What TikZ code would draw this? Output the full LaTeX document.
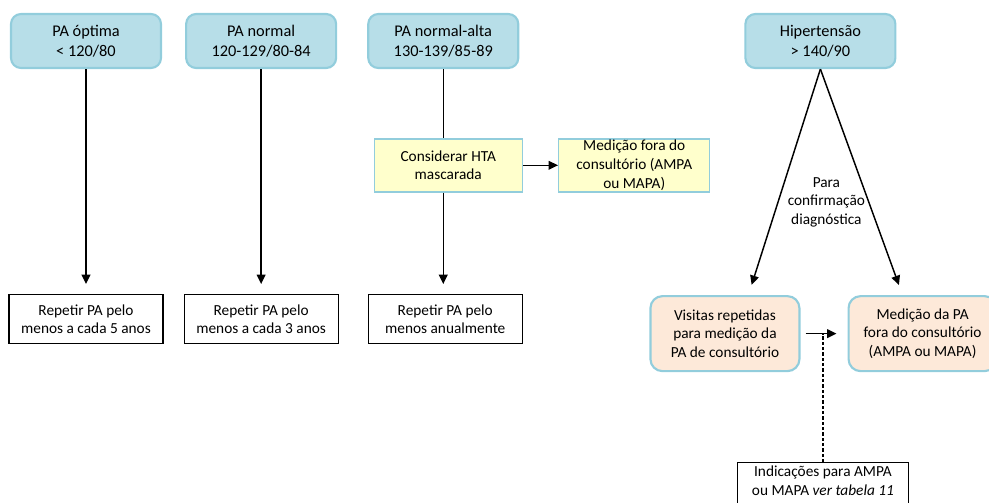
\documentclass[tikz,border=0pt]{standalone}
\usepackage{fontspec}
\setmainfont{Carlito}
\usepackage{xcolor}
\usepackage{tikz}
\usetikzlibrary{arrows.meta, positioning}

\definecolor{catblue}{HTML}{B7DEE8}
\definecolor{edgeblue}{HTML}{92CDDC}
\definecolor{notepale}{HTML}{FFFFCC}
\definecolor{peach}{HTML}{FDE9D9}

\begin{document}
\begin{tikzpicture}[auto, font=\fontsize{11.5}{14}\selectfont]
    % Define styles
    \tikzset{
        category/.style={rectangle, rounded corners=7.5pt, draw=edgeblue, line width=1.6pt, fill=catblue, align=center, minimum width=112.5pt, minimum height=40.5pt, font=\fontsize{12.25}{15}\selectfont},
        advice/.style={rectangle, draw=black, line width=0.9pt, fill=white, align=center, minimum width=115.5pt, minimum height=36.75pt},
        note/.style={rectangle, draw=edgeblue, line width=1.1pt, fill=notepale, align=center, minimum width=111pt, minimum height=39.75pt, inner sep=1pt},
        confirm/.style={rectangle, rounded corners=9pt, draw=edgeblue, line width=1.6pt, fill=peach, align=center, minimum width=111.75pt, minimum height=56.25pt},
        flow/.style={line width=1.1pt, -{Triangle[length=7pt, width=6.5pt]}}
    }
    \useasboundingbox (0,0) rectangle (741.75pt,-377.25pt);

    % Nodes
    \node[category] (optima) at (64.5pt,-30.75pt) {PA óptima\\< 120/80};
    \node[category, right=17.25pt of optima] (normal) {PA normal\\120-129/80-84};
    \node[category, right=22.5pt of normal] (normalalta) {PA normal-alta\\130-139/85-89};
    \node[category, right=168.75pt of normalalta] (hiper) {Hipertensão\\> 140/90};

    \node[advice, below=168.75pt of optima] (rep5) {Repetir PA pelo\\menos a cada 5 anos};
    \node[advice, below=168.75pt of normal] (rep3) {Repetir PA pelo\\menos a cada 3 anos};

    \node[note, below=51.75pt of normalalta, xshift=3.75pt] (mascarada) {Considerar HTA\\mascarada};
    \node[note, right=26.25pt of mascarada, minimum width=113.25pt] (fora) {Medição fora do\\consultório (AMPA\\ou MAPA)};
    \node[advice, below=168.75pt of normalalta, xshift=1.5pt] (repano) {Repetir PA pelo\\menos anualmente};

    \node[below=81pt of hiper, xshift=4.5pt, inner sep=0pt, align=center] (motivo) {Para\\confirmação\\diagnóstica};

    \node[confirm, below=169.5pt of hiper, xshift=-71.6pt] (visitas) {Visitas repetidas\\para medição da\\PA de consultório};
    \node[confirm, right=35.25pt of visitas, minimum width=111pt] (medpa) {Medição da PA\\fora do consultório\\(AMPA ou MAPA)};
    \node[advice, below=67.5pt of visitas, xshift=73.5pt, minimum width=128.25pt, minimum height=0pt, inner ysep=2.5pt, text depth=14pt] (indic) {Indicações para AMPA\\ou MAPA \textit{ver tabela 11}};

    % Arrows
    \draw[flow, shorten >=7.5pt] (optima) -- (rep5);
    \draw[flow, shorten >=7.5pt] (normal) -- (rep3);
    \draw[line width=1.1pt] (normalalta) -- (normalalta |- mascarada.north);
    \draw[flow, shorten >=7.5pt] (mascarada.south -| normalalta) -- (repano.north -| normalalta);
    \draw[flow] (mascarada) -- (fora);

    \draw[flow, shorten >=8pt] (hiper.south) -- ([xshift=17.6pt]visitas.north);
    \draw[flow, shorten >=8pt] (hiper.south) -- ([xshift=-15pt]medpa.north);
    \draw[flow, shorten <=3.75pt, shorten >=8.25pt] (visitas.east) -- (medpa.west);
    \draw[line width=0.9pt, dash pattern=on 2.5pt off 1.5pt] (indic.north) -- (indic.north |- visitas.east);
\end{tikzpicture}
\end{document}
